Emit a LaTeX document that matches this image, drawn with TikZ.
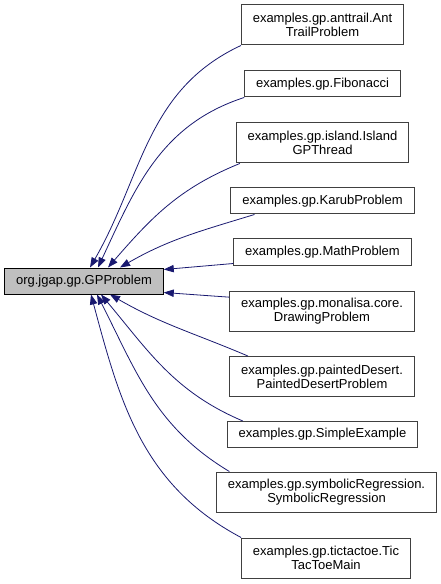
\documentclass[tikz,border=0pt]{standalone}
\usepackage{fontspec}
\setmainfont{Liberation Sans}
\usetikzlibrary{arrows.meta}
\definecolor{edgeblue}{HTML}{191970}
\definecolor{basegray}{HTML}{BFBFBF}
\definecolor{boxline}{HTML}{404040}

\begin{document}
\begin{tikzpicture}[
    x=0.75pt, y=0.75pt,
    every node/.style={font=\fontsize{9.75}{10.5}\selectfont},
    cls/.style={
        rectangle,
        draw=boxline,
        fill=white,
        line width=0.75pt,
        align=center,
        inner xsep=8.5pt,
        minimum height=19.5pt
    },
    twoline/.style={cls, minimum height=30pt},
    basecls/.style={cls, draw=black, fill=basegray},
    arrow/.style={->, >={Triangle[length=7.5pt, width=5.5pt]}, line width=0.6pt, color=edgeblue}
]
\useasboundingbox (0,0) rectangle (440,-584);

% NODES
\node[basecls] (gpp) at (84,-281) {org.jgap.gp.GPProblem};

\node[twoline] (ant)    at (322.5,-25)  {examples.gp.anttrail.Ant\\TrailProblem};
\node[cls]     (fib)    at (322.5,-84)  {examples.gp.Fibonacci};
\node[twoline] (island) at (322.5,-143) {examples.gp.island.Island\\GPThread};
\node[cls]     (karub)  at (322.5,-201) {examples.gp.KarubProblem};
\node[cls]     (math)   at (322.5,-252) {examples.gp.MathProblem};
\node[twoline] (mona)   at (322,-311)   {examples.gp.monalisa.core.\\DrawingProblem};
\node[twoline] (desert) at (322,-376.5) {examples.gp.paintedDesert.\\PaintedDesertProblem};
\node[cls]     (simple) at (322.5,-434.5) {examples.gp.SimpleExample};
\node[twoline] (symreg) at (326.5,-492) {examples.gp.symbolicRegression.\\SymbolicRegression};
\node[twoline] (ttt)    at (326,-558)   {examples.gp.tictactoe.Tic\\TacToeMain};

% ARROWS
\draw[arrow] (ant.south west) to[out=205, in=60] ([xshift=4.5pt]gpp.north);
\draw[arrow] (fib.south west) to[out=198, in=65] ([xshift=10.5pt]gpp.north);
\draw[arrow] ([xshift=3pt]island.south west) to[out=202, in=49] ([xshift=18pt]gpp.north);
\draw[arrow] ([xshift=18pt]karub.south west) to[out=197, in=30] ([xshift=27pt]gpp.north);
\draw[arrow] ([yshift=1.5pt]math.south west) -- ([yshift=-1.5pt]gpp.north east);
\draw[arrow] ([yshift=-5pt]mona.north west) -- ([yshift=1.5pt]gpp.south east);
\draw[arrow] ([xshift=14pt]desert.north west) to[out=157, in=-30] ([xshift=19.5pt]gpp.south);
\draw[arrow] ([xshift=12pt]simple.north west) to[out=157, in=-50] ([xshift=12.75pt]gpp.south);
\draw[arrow] ([xshift=10pt]symreg.north west) to[out=149, in=-63] ([xshift=9.75pt]gpp.south);
\draw[arrow] (ttt.north west) to[out=152, in=-75] ([xshift=5.25pt]gpp.south);

\end{tikzpicture}
\end{document}
